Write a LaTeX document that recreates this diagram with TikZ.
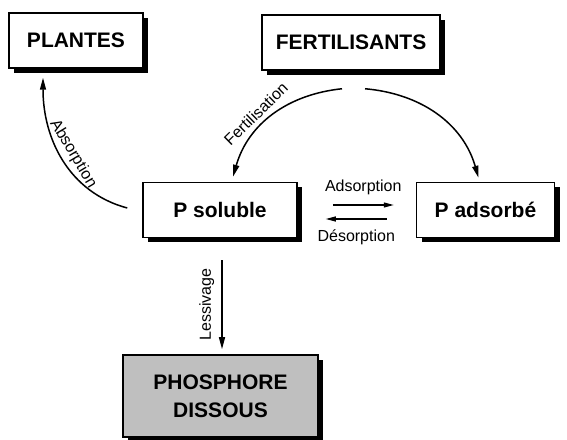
\documentclass[tikz,border=0pt]{standalone}
\usepackage{fontspec}
\setmainfont{Liberation Sans}
\usetikzlibrary{
arrows.meta,
positioning,
shadows
}

\begin{document}
\begin{tikzpicture}[
x=1pt,y=1pt,
box/.style={
draw,
line width=1.5pt,
fill=white,
minimum height=55pt,
align=center,
font=\bfseries\fontsize{21}{28}\selectfont,
drop shadow={shadow xshift=5pt,shadow yshift=-5pt,fill=black,opacity=1}
},
arrow/.style={-{Triangle[length=12pt,width=6pt]},line width=1.5pt},
thinarrow/.style={-{Triangle[length=10pt,width=5pt]},line width=1.2pt},
lbl/.style={font=\fontsize{16}{19}\selectfont}
]
\useasboundingbox (0,0) rectangle (567,439);

\node[box,minimum width=134pt] (plantes) at (76,398.5) {PLANTES};
\node[box,minimum width=178pt] (fert) at (351,396.5) {FERTILISANTS};
\node[box,minimum width=154pt] (psol) at (220,229) {P soluble};
\node[box,minimum width=138pt,right=118pt of psol] (pads) {P adsorbé};
\node[box,minimum width=195pt,minimum height=82pt,fill=black!25] (phos) at (220.5,43) {PHOSPHORE\\DISSOUS};

\draw[arrow] ([xshift=-15pt,yshift=2pt]psol.west) to[out=165,in=-90]
  node[lbl,pos=0.5,sloped,above]{Absorption} ([xshift=-33pt,yshift=-9pt]plantes.south);
\draw[arrow] ([xshift=-9pt,yshift=-18pt]fert.south) to[out=186,in=74]
  node[lbl,pos=0.58,sloped,above=2pt]{Fertilisation} ([xshift=13pt,yshift=5pt]psol.north);
\draw[arrow] ([xshift=14pt,yshift=-18pt]fert.south) to[out=-5,in=106] ([xshift=-7pt,yshift=4pt]pads.north);

\draw[thinarrow] ([xshift=35pt,yshift=5pt]psol.east) -- node[lbl,above=6pt]{Adsorption} ([xshift=-22pt,yshift=5pt]pads.west);
\draw[thinarrow] ([xshift=-29pt,yshift=-9pt]pads.west) -- node[lbl,below=7pt]{Désorption} ([xshift=28pt,yshift=-9pt]psol.east);

\draw[arrow] ([xshift=2pt,yshift=-22pt]psol.south) -- node[lbl,rotate=90,anchor=south,inner sep=7pt]{Lessivage} ([xshift=1.5pt,yshift=5pt]phos.north);

\end{tikzpicture}
\end{document}
